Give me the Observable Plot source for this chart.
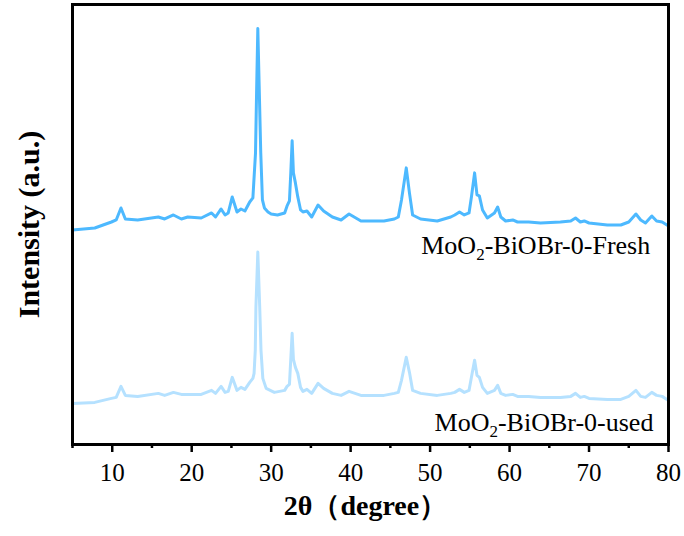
<!DOCTYPE html>
<html>
<head>
<meta charset="utf-8">
<script src="https://cdn.jsdelivr.net/npm/d3@7"></script>
<script src="https://cdn.jsdelivr.net/npm/@observablehq/plot@0.6"></script>
<style>
  html, body { margin: 0; padding: 0; background: #fff; }
  #chart { width: 684px; height: 536px; }
  #chart svg text { font-family: "Liberation Serif", "Times New Roman", "DejaVu Serif", serif; }
</style>
</head>
<body>
<div id="chart"></div>
<script>
// ---- data (arbitrary intensity units) ----
const freshTheta = [5, 7.8, 9.9, 10.5, 11.1, 11.65, 13.2, 15.8, 16.6, 17.7, 18.7, 19.5, 21.2, 22.5, 23.0, 23.7, 24.2, 24.6, 25.1, 25.7, 26.2, 26.7, 27.3, 27.7, 28.03, 28.18, 28.32, 28.49, 28.69, 28.9, 29.15, 29.6, 30.0, 30.8, 31.7, 32.0, 32.3, 32.47, 32.64, 32.8, 33.05, 33.35, 33.7, 34.0, 34.5, 35.1, 35.9, 36.6, 37.7, 38.8, 39.8, 41.3, 44.2, 45.5, 46.0, 46.4, 47.0, 47.4, 47.8, 48.8, 50.9, 52.6, 53.1, 53.7, 54.3, 54.9, 55.2, 55.6, 55.9, 56.2, 56.6, 57.2, 58.1, 58.5, 58.9, 59.5, 60.4, 61.0, 62.4, 63.9, 66.4, 67.7, 68.3, 68.9, 69.4, 70.0, 72.3, 74.0, 75.0, 75.9, 76.5, 77.1, 77.9, 78.5, 79.2, 79.8, 80];
const freshIntensity = [214, 216, 222, 224, 236, 225, 224, 227, 225, 229, 225, 227, 226, 231, 227, 235, 229, 231, 247, 232, 235, 233, 242, 246, 291, 358, 415, 358, 291, 244, 236, 232, 230, 229, 231, 238, 243, 271, 303, 271, 261, 247, 234, 232, 233, 227, 239, 233, 227, 224, 230, 223, 223, 225, 227, 244, 276, 251, 229, 225, 223, 227, 229, 232, 229, 231, 247, 271, 249, 248, 234, 226, 231, 237, 227, 223, 224, 222, 222, 221, 222, 223, 226, 222, 223, 221, 219, 219, 222, 230, 224, 221, 228, 223, 222, 219, 218];

const usedTheta = [5, 7.8, 9.9, 10.5, 11.1, 11.65, 13.2, 15.8, 16.6, 17.7, 18.7, 21.2, 22.5, 23.0, 23.7, 24.2, 24.6, 25.1, 25.7, 26.2, 26.7, 27.3, 27.7, 27.85, 28.0, 28.08, 28.32, 28.56, 28.72, 28.95, 29.37, 30.4, 31.7, 32.0, 32.3, 32.64, 32.8, 33.05, 33.35, 33.7, 34.0, 34.5, 35.1, 35.9, 36.6, 37.7, 38.8, 39.8, 41.3, 44.2, 45.5, 46.0, 46.4, 47.0, 47.4, 47.8, 48.8, 50.9, 52.6, 53.1, 53.7, 54.3, 54.9, 55.2, 55.6, 55.9, 56.2, 56.6, 57.2, 58.1, 58.5, 58.9, 59.5, 60.4, 61.0, 62.4, 63.9, 66.4, 67.7, 68.3, 68.9, 69.4, 70.0, 72.3, 74.0, 75.0, 75.9, 76.5, 77.1, 77.9, 78.5, 79.2, 79.8, 80];
const usedIntensity = [41, 42, 46, 47, 58, 49, 48, 51, 49, 52, 50, 50, 54, 51, 58, 52, 53, 67, 54, 57, 55, 62, 66, 71, 94, 137, 192, 137, 94, 66, 56, 52, 54, 58, 60, 111, 85, 77, 71, 57, 53, 55, 51, 61, 56, 51, 49, 53, 49, 49, 51, 52, 64, 87, 72, 54, 51, 49, 51, 52, 55, 52, 54, 67, 84, 69, 67, 57, 51, 54, 59, 51, 49, 50, 48, 48, 47, 47, 48, 51, 47, 48, 46, 45, 45, 48, 54, 48, 47, 52, 49, 48, 45, 44];

const majorTicks = [10, 20, 30, 40, 50, 60, 70, 80];
const minorTicks = [5, 15, 25, 35, 45, 55, 65, 75];
const seriesLabels = ["MoO2-BiOBr-0-Fresh", "MoO2-BiOBr-0-used"];
const xTitle = "2θ（degree）";
const yTitle = "Intensity (a.u.)";

// ---- build tables ----
const fresh = freshTheta.map((t, i) => ({t, v: freshIntensity[i]}));
const used = usedTheta.map((t, i) => ({t, v: usedIntensity[i]}));
const labels = [
  {text: seriesLabels[0], t: 77.7, v: 198},
  {text: seriesLabels[1], t: 78.1, v: 22}
];
const serif = "Liberation Serif, Times New Roman, DejaVu Serif, serif";

const chart = Plot.plot({
  width: 684,
  height: 536,
  marginLeft: 72,
  marginRight: 16,
  marginTop: 4,
  marginBottom: 92,
  style: {fontFamily: serif, background: "#fff", color: "#000"},
  x: {domain: [5, 80], label: null},
  y: {domain: [0, 439], axis: null},
  marks: [
    Plot.line(used, {x: "t", y: "v", stroke: "#b5e1ff", strokeWidth: 3, strokeLinejoin: "round"}),
    Plot.line(fresh, {x: "t", y: "v", stroke: "#4db9ff", strokeWidth: 3, strokeLinejoin: "round"}),
    Plot.axisX(minorTicks, {tickSize: 4, strokeWidth: 2.5, text: null, label: null, stroke: "#000"}),
    Plot.axisX(majorTicks, {tickSize: 8, strokeWidth: 2.5, tickPadding: 11, fontSize: 25, fontFamily: serif, label: null, fill: "#000", stroke: "#000"}),
    Plot.frame({stroke: "#000", strokeWidth: 3}),
    Plot.text(labels, {x: "t", y: "v", text: "text", textAnchor: "end", fontSize: 26, fontFamily: serif, fill: "#000"}),
    Plot.text([xTitle], {text: d => d, frameAnchor: "bottom", textAnchor: "middle", dy: 70, dx: -5, fontSize: 28, fontWeight: "bold", fontFamily: serif, fill: "#000"}),
    Plot.text([yTitle], {text: d => d, frameAnchor: "left", textAnchor: "middle", rotate: -90, dx: -43, fontSize: 30, fontWeight: "bold", fontFamily: serif, fill: "#000"})
  ]
});

// subscript "2" in MoO2
d3.select(chart).selectAll("text").each(function() {
  const el = this;
  const s = el.textContent;
  if (s.startsWith("MoO2")) {
    el.textContent = "";
    const sel = d3.select(el);
    sel.append("tspan").text("MoO");
    sel.append("tspan").attr("dy", 6).attr("font-size", 17).text("2");
    sel.append("tspan").attr("dy", -6).text(s.slice(4));
  }
});

document.getElementById("chart").appendChild(chart);
</script>
</body>
</html>
